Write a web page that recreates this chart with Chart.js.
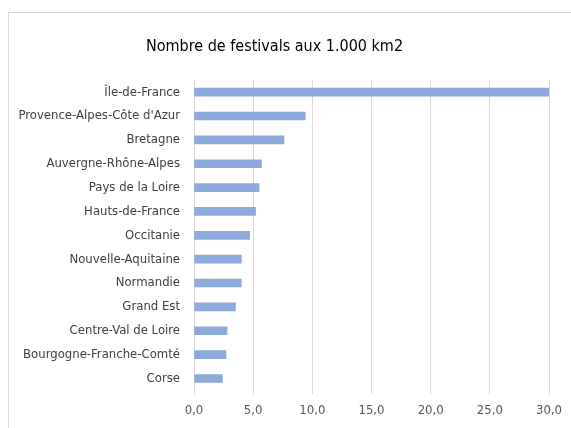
<!DOCTYPE html>
<html>
<head>
<meta charset="utf-8">
<script src="https://cdn.jsdelivr.net/npm/chart.js@4/dist/chart.umd.min.js"></script>
<style>
  html, body { margin: 0; padding: 0; background: #fff; }
  #wrap { position: relative; width: 571px; height: 428px; overflow: hidden; }
  #frame { position: absolute; left: 8px; top: 12px; width: 600px; height: 440px; border: 1px solid #d9d9d9; box-sizing: border-box; }
  canvas { position: absolute; left: 0; top: 0; }
</style>
</head>
<body>
<div id="wrap">
  <div id="frame"></div>
  <canvas id="festivalsChart" width="571" height="428"></canvas>
</div>
<script>
const regions = [
  "Île-de-France",
  "Provence-Alpes-Côte d'Azur",
  "Bretagne",
  "Auvergne-Rhône-Alpes",
  "Pays de la Loire",
  "Hauts-de-France",
  "Occitanie",
  "Nouvelle-Aquitaine",
  "Normandie",
  "Grand Est",
  "Centre-Val de Loire",
  "Bourgogne-Franche-Comté",
  "Corse"
];
const festivalsPer1000km2 = [30.0, 9.4, 7.6, 5.7, 5.5, 5.2, 4.7, 4.0, 4.0, 3.5, 2.8, 2.7, 2.4];
const xTicks = [0, 5, 10, 15, 20, 25, 30];

const fontFamily = '"DejaVu Sans Condensed", "Liberation Sans Narrow", sans-serif';

new Chart(document.getElementById('festivalsChart'), {
    type: 'bar',
    data: {
        labels: regions,
        datasets: [{
            label: 'Nombre de festivals aux 1.000 km2',
            data: festivalsPer1000km2,
            backgroundColor: '#8eaadb',
            barThickness: 8
        }]
    },
    options: {
        indexAxis: 'y',
        responsive: false,
        animation: false,
        layout: { padding: { top: 37, right: 22, bottom: 2, left: 0 } },
        plugins: {
            legend: { display: false },
            tooltip: { enabled: false },
            title: {
                display: true,
                text: 'Nombre de festivals aux 1.000 km2',
                color: '#000',
                font: { family: fontFamily, size: 16, weight: 'normal' },
                padding: { top: 0, bottom: 24 }
            }
        },
        scales: {
            x: {
                min: 0,
                max: 30,
                afterBuildTicks(scale) {
                    scale.ticks = xTicks.map(v => ({ value: v }));
                },
                grid: { color: '#d9d9d9', drawTicks: true, tickLength: 4 },
                border: { display: false },
                ticks: {
                    color: '#595959',
                    padding: 8,
                    font: { family: fontFamily, size: 13 },
                    callback: v => v.toFixed(1).replace('.', ',')
                }
            },
            y: {
                afterFit(scale) { scale.width = 194; },
                grid: { display: false },
                border: { display: false },
                ticks: {
                    color: '#404040',
                    padding: 6,
                    font: { family: fontFamily, size: 13 }
                }
            }
        }
    }
});
</script>
</body>
</html>
